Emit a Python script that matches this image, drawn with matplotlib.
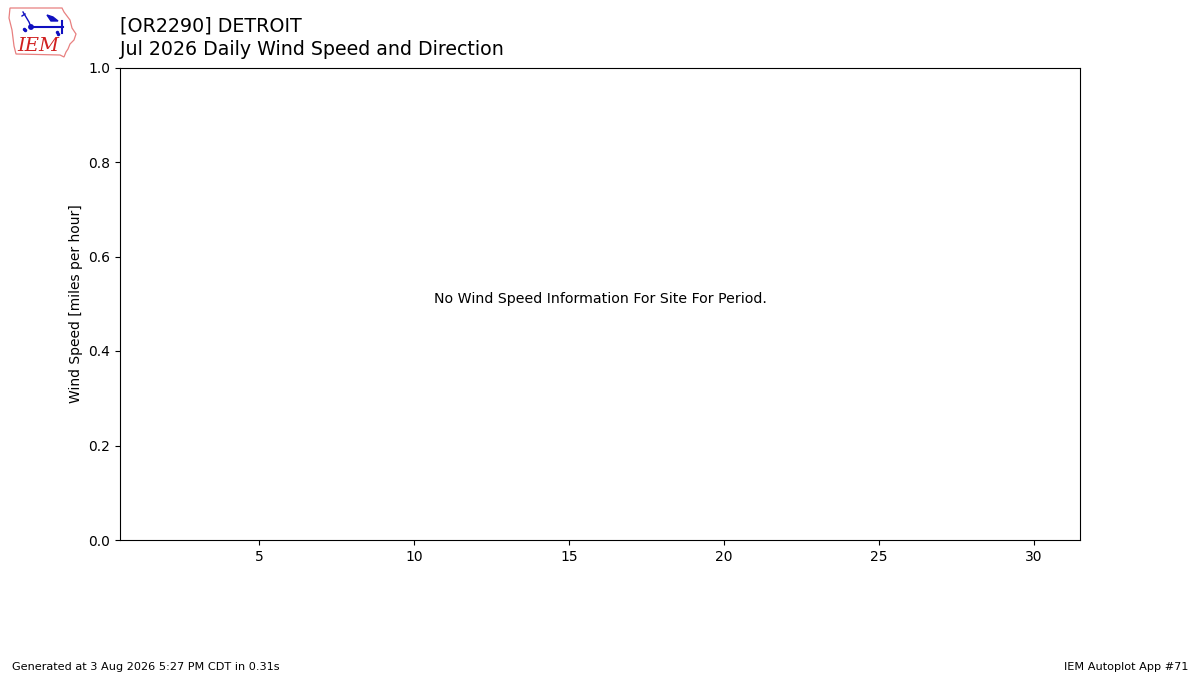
import matplotlib
matplotlib.use('Agg')
import matplotlib.pyplot as plt
from matplotlib.patches import Polygon, Circle

# chart texts
station = '[OR2290] DETROIT'
period = 'Jul 2026 Daily Wind Speed and Direction'
ylabel = 'Wind Speed [miles per hour]'
message = 'No Wind Speed Information For Site For Period.'
footer_left = 'Generated at 3 Aug 2026 5:27 PM CDT in 0.31s'
footer_right = 'IEM Autoplot App #71'

# axis setup (no data for the month)
days = list(range(1, 32))
xticks = [5, 10, 15, 20, 25, 30]
yticks = [0.0, 0.2, 0.4, 0.6, 0.8, 1.0]

fig = plt.figure(figsize=(12, 6.75), dpi=100)
ax = fig.add_axes([0.1, 0.2, 0.8, 0.7])
ax.set_xlim(days[0] - 0.5, days[-1] + 0.5)
ax.set_ylim(0, 1)
ax.set_xticks(xticks)
ax.set_yticks(yticks)
ax.set_ylabel(ylabel)
ax.text(0.5, 0.511, message, transform=ax.transAxes, ha='center', va='center',
        fontsize=10.2)

fig.text(0.1, 1 - 31 / 675, station, fontsize=13.7, va='baseline')
fig.text(0.1, 1 - 55 / 675, period, fontsize=13.7, va='baseline')
fig.text(0.01, 0.008, footer_left, fontsize=8.15)
fig.text(0.99, 0.008, footer_right, fontsize=8.15, ha='right')

# little IEM logo, drawn in pixel-like coords
lax = fig.add_axes([0.0, 1 - 60 / 675, 80 / 1200, 60 / 675])
lax.set_xlim(0, 80)
lax.set_ylim(60, 0)
lax.axis('off')
iowa = [(10, 8), (62, 8), (64, 12), (70, 20), (72, 28), (76, 34), (74, 40),
        (70, 44), (68, 49), (66, 52), (64, 57), (60, 55), (16, 54), (14, 46),
        (12, 30), (9, 18), (10, 8)]
lax.add_patch(Polygon(iowa, closed=True, fill=False, edgecolor='#e88080', lw=0.9))
lax.plot([31, 63], [27, 27], color='#1010c0', lw=1.5)
lax.plot([62, 62], [21, 33], color='#1010c0', lw=1.5)
lax.add_patch(Polygon([(47, 15), (53, 17), (58, 21), (51, 21)], color='#1010c0'))
lax.add_patch(Circle((31, 27), 2.2, color='#1010c0'))
lax.plot([23, 26, 29, 31], [12, 17, 22, 27], color='#1010c0', lw=1)
lax.plot([22, 25], [16, 14], color='#1010c0', lw=1)
lax.plot([24, 25], [29, 30], 'o', color='#1010c0', ms=1.5)
lax.plot([57, 58], [32, 34], 'o', color='#1010c0', ms=1.5)
lax.text(38, 46, 'IEM', color='#d02020', fontsize=14, ha='center', va='center',
         family='DejaVu Serif', style='italic')

fig.savefig('out.png', dpi=100)
